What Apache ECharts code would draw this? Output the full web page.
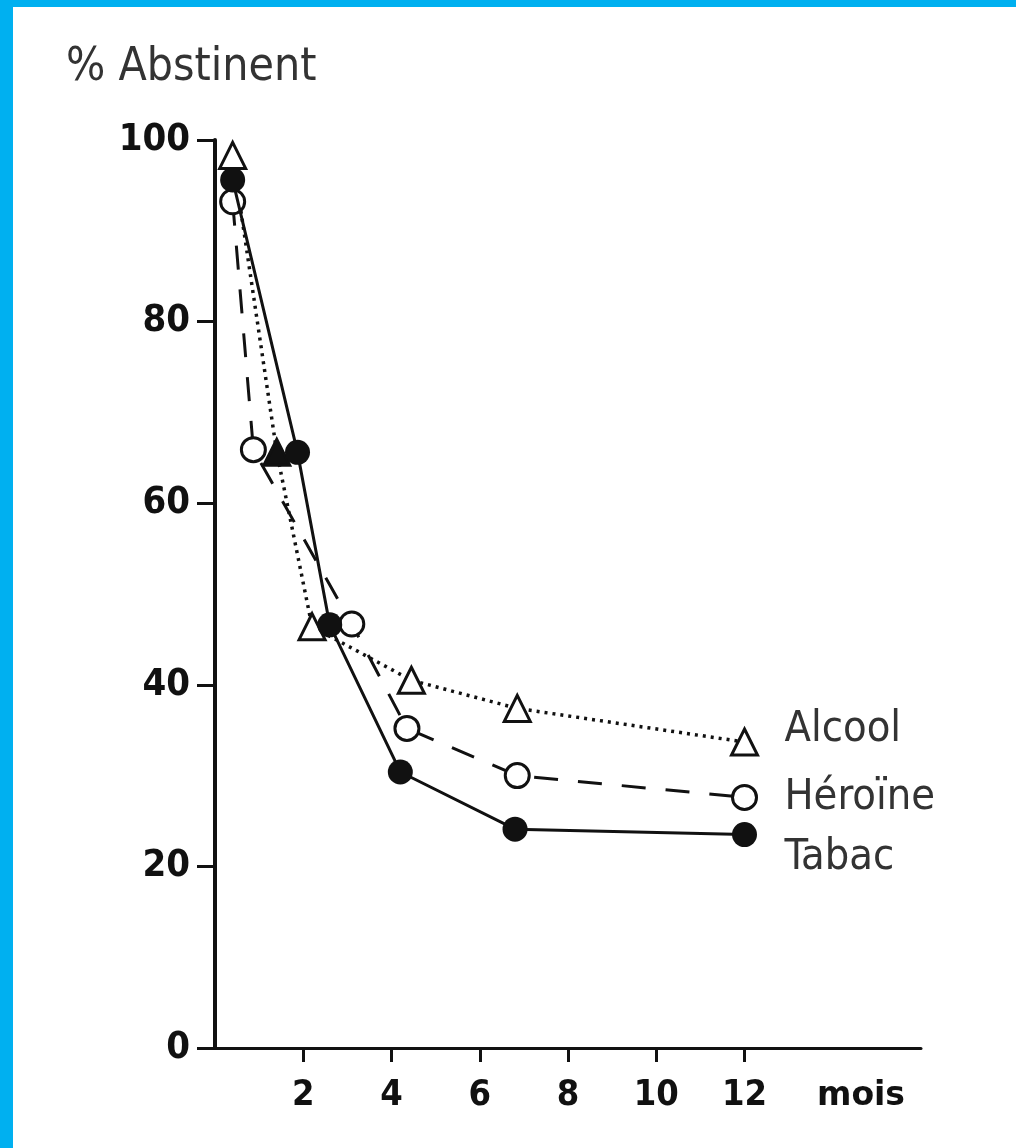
<!DOCTYPE html>
<html>
<head>
<meta charset="utf-8">
<script src="https://cdn.jsdelivr.net/npm/echarts@6/dist/echarts.min.js"></script>
<style>
  html, body { margin: 0; padding: 0; background: #00b0f0; }
  #chart { position: absolute; left: 13px; top: 7px; width: 1003px; height: 1141px; background: #fff; }
</style>
</head>
<body>
<div id="chart"></div>
<script>
// months (x) and % abstinent (y)
const alcoolMonths = [0.4, 1.4, 2.2, 4.45, 6.85, 12]
const alcoolValues = [98.3, 65.6, 46.4, 40.5, 37.4, 33.7]

const heroineMonths = [0.4, 0.87, 3.1, 4.35, 6.85, 12]
const heroineValues = [93.2, 65.9, 46.7, 35.2, 30.0, 27.6]

const tabacMonths = [0.4, 1.87, 2.6, 4.2, 6.8, 12]
const tabacValues = [95.6, 65.6, 46.6, 30.4, 24.1, 23.5]

const xTicks = [2, 4, 6, 8, 10, 12]

const ink = '#111'
const narrow = "'Liberation Sans Narrow', 'DejaVu Sans Condensed', sans-serif"
const heavy = "'DejaVu Sans Condensed', 'DejaVu Sans', sans-serif"

const pairs = (xs, ys) => xs.map((x, i) => [x, ys[i]])

const chart = echarts.init(document.getElementById('chart'))

const endLabel = (dy) => ({
  show: true,
  formatter: '{a}',
  distance: 40,
  offset: [0, dy],
  color: '#333',
  fontFamily: narrow,
  fontSize: 43
})

chart.setOption({
  animation: false,
  title: {
    text: '% Abstinent',
    left: 48,
    top: 33,
    textStyle: { fontFamily: narrow, fontSize: 46, fontWeight: 'normal', color: '#333' }
  },
  grid: { left: 202, top: 133, right: 95, bottom: 100 },
  xAxis: {
    type: 'value',
    min: 0,
    max: 16,
    interval: 2,
    name: 'mois',
    nameLocation: 'end',
    nameGap: -16,
    nameTextStyle: {
      align: 'right', verticalAlign: 'top', padding: [32, 0, 0, 0],
      fontFamily: "'DejaVu Sans', sans-serif", fontWeight: 'bold', fontSize: 33, color: ink
    },
    splitLine: { show: false },
    axisLine: { show: true, lineStyle: { color: ink, width: 3 } },
    axisTick: { show: true, customValues: xTicks, length: 14, lineStyle: { color: ink, width: 3 } },
    axisLabel: {
      customValues: xTicks, margin: 30,
      fontFamily: heavy, fontWeight: 'bold', fontSize: 36, color: ink
    }
  },
  yAxis: {
    type: 'value',
    min: 0,
    max: 100,
    interval: 20,
    splitLine: { show: false },
    axisLine: { show: true, lineStyle: { color: ink, width: 4 } },
    axisTick: { show: true, length: 18, lineStyle: { color: ink, width: 3 } },
    axisLabel: { margin: 25, fontFamily: heavy, fontWeight: 'bold', fontSize: 38, color: ink }
  },
  series: [
    {
      name: 'Alcool',
      type: 'line',
      data: pairs(alcoolMonths, alcoolValues).map((p, i) =>
        i === 1 ? { value: p, itemStyle: { color: ink } } : p),
      symbol: 'triangle',
      symbolSize: 26,
      showAllSymbol: true,
      lineStyle: { color: ink, width: 3.5, type: [3, 5] },
      itemStyle: { color: '#fff', borderColor: ink, borderWidth: 3 },
      endLabel: endLabel(-12),
      z: 3
    },
    {
      name: 'Héroïne',
      type: 'line',
      data: pairs(heroineMonths, heroineValues),
      symbol: 'circle',
      symbolSize: 24,
      showAllSymbol: true,
      lineStyle: { color: ink, width: 3, type: [24, 20] },
      itemStyle: { color: '#fff', borderColor: ink, borderWidth: 3 },
      endLabel: endLabel(0),
      z: 4
    },
    {
      name: 'Tabac',
      type: 'line',
      data: pairs(tabacMonths, tabacValues),
      symbol: 'circle',
      symbolSize: 25,
      showAllSymbol: true,
      lineStyle: { color: ink, width: 3 },
      itemStyle: { color: ink, borderColor: ink, borderWidth: 0 },
      endLabel: endLabel(23),
      z: 5
    }
  ]
})
</script>
</body>
</html>
